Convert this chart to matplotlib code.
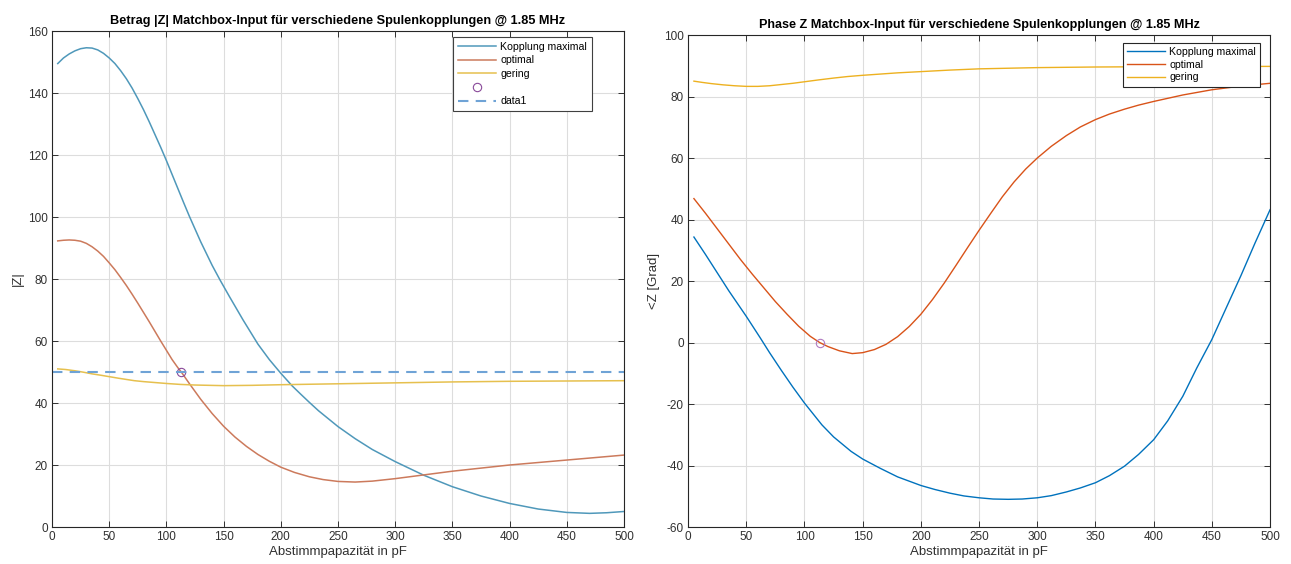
import numpy as np
import matplotlib
matplotlib.use("Agg")
import matplotlib.pyplot as plt

plt.rcParams['font.family'] = ['Liberation Sans', 'DejaVu Sans']
plt.rcParams['axes.unicode_minus'] = False

# |Z| data (left)
x_bmax = [5, 10, 15, 20, 25, 30, 35, 40, 45, 50, 55, 60, 65, 70, 75, 80, 85, 90, 95, 100,
          105, 110, 115, 120, 130, 140, 147, 155, 167, 180, 190, 200, 210, 217, 225, 233,
          250, 265, 280, 300, 325, 350, 375, 400, 425, 450, 470, 485, 500]
z_bmax = [149.5, 151.3, 152.6, 153.6, 154.3, 154.6, 154.5, 153.9, 152.8, 151.3, 149.5,
          147.2, 144.6, 141.6, 138.2, 134.6, 130.7, 126.6, 122.5, 118.2, 113.7, 109.2,
          104.7, 100.3, 92, 84.4, 79.6, 74.4, 66.8, 59, 54, 49.6, 45.5, 43, 40.2, 37.5,
          32.4, 28.5, 25, 21.1, 16.7, 13, 10, 7.6, 5.8, 4.7, 4.4, 4.6, 5.0]
x_bopt = [5, 10, 15, 20, 25, 30, 35, 40, 45, 50, 55, 60, 65, 70, 75, 80, 85, 90, 95, 100,
          105, 110, 113, 120, 130, 140, 150, 160, 170, 180, 190, 200, 212, 225, 237, 250,
          265, 280, 300, 325, 350, 375, 400, 425, 450, 475, 500]
z_bopt = [92.3, 92.5, 92.6, 92.5, 92.2, 91.5, 90.4, 89, 87.3, 85.2, 83, 80.5, 77.9, 75.1,
          72.2, 69.2, 66.2, 63.1, 60, 57, 54, 51.4, 50, 46.3, 41.2, 36.6, 32.5, 29, 26,
          23.4, 21.2, 19.3, 17.6, 16.2, 15.3, 14.7, 14.5, 14.8, 15.6, 16.8, 18, 19, 20,
          20.8, 21.6, 22.4, 23.2]
x_bger = [5, 12, 20, 28, 35, 42, 50, 58, 65, 72, 80, 90, 100, 112, 125, 150, 175, 200,
          250, 300, 350, 400, 450, 500]
z_bger = [51, 50.8, 50.4, 49.9, 49.4, 49, 48.5, 48, 47.6, 47.2, 46.9, 46.6, 46.3, 46,
          45.8, 45.6, 45.7, 45.9, 46.2, 46.5, 46.8, 47, 47.1, 47.2]
ref_x = [0, 500]
ref_z = [50, 50]
mark_x = 113
mark_z = 50

# phase data (right)
x_pmax = [5, 15, 25, 35, 50, 62, 70, 80, 90, 100, 115, 125, 140, 150, 165, 180, 200, 212,
          225, 237, 250, 262, 275, 287, 300, 312, 325, 337, 350, 362, 375, 387, 400, 412,
          425, 437, 450, 462, 475, 487, 500]
p_max = [34.3, 28.6, 22.7, 16.8, 8.5, 1.5, -3.3, -9, -14.5, -19.7, -26.8, -30.7, -35.4,
         -37.9, -40.9, -43.7, -46.5, -47.8, -49, -49.9, -50.5, -50.9, -51, -50.9, -50.5,
         -49.8, -48.6, -47.3, -45.6, -43.3, -40.2, -36.4, -31.6, -25.5, -17.5, -8.3, 1.0,
         11, 21.8, 32.3, 43.2]
x_popt = [5, 15, 25, 35, 45, 55, 65, 75, 85, 95, 105, 113, 120, 130, 141, 150, 160, 170,
          180, 190, 200, 210, 220, 230, 240, 250, 260, 270, 280, 290, 300, 312, 325, 337,
          350, 362, 375, 387, 400, 425, 450, 475, 500]
p_opt = [46.8, 42, 37, 32, 27, 22.3, 17.8, 13.3, 9.2, 5.3, 2, 0, -1.3, -2.7, -3.6, -3.3,
         -2.3, -0.6, 1.9, 5.2, 9.2, 14, 19.3, 25, 30.8, 36.5, 42, 47.4, 52.2, 56.4, 60,
         63.8, 67.3, 70.1, 72.5, 74.3, 75.9, 77.2, 78.4, 80.5, 82.2, 83.4, 84.3]
x_pger = [5, 12, 20, 30, 40, 50, 60, 70, 80, 90, 100, 112, 125, 137, 150, 165, 180, 200,
          225, 250, 275, 300, 350, 400, 500]
p_ger = [85, 84.6, 84.2, 83.8, 83.5, 83.3, 83.3, 83.5, 83.9, 84.3, 84.8, 85.4, 86, 86.5,
         86.9, 87.3, 87.7, 88.1, 88.6, 89, 89.2, 89.4, 89.6, 89.7, 89.8]
pmark_x = 113
pmark_p = 0

fig = plt.figure(figsize=(12.91, 5.64), dpi=100)
ax1 = fig.add_axes([0.0403, 0.0656, 0.443, 0.8794])
ax2 = fig.add_axes([0.533, 0.0656, 0.4508, 0.8723])

def style(ax):
    ax.grid(True, color='#dddddd', linewidth=0.8)
    ax.set_axisbelow(True)
    ax.tick_params(direction='in', top=True, right=True, labelsize=8.5,
                   colors='#303030', length=4, width=0.7, pad=3)
    for s in ax.spines.values():
        s.set_color('#262626')
        s.set_linewidth(0.8)
    ax.set_xlim(0, 500)
    ax.set_xticks(np.arange(0, 501, 50))
    ax.set_xlabel("Abstimmpapazität in pF", fontsize=9.5, color='#303030', labelpad=2)

# left
ax1.plot(x_bmax, z_bmax, color='#4f98ba', lw=1.1, label='Kopplung maximal')
ax1.plot(x_bopt, z_bopt, color='#cc7a5c', lw=1.1, label='optimal')
ax1.plot(x_bger, z_bger, color='#e6c04e', lw=1.1, label='gering')
ax1.plot([mark_x], [mark_z], 'o', mfc='none', mec='#8a4a9a', ms=6, mew=0.8, label=' ')
ax1.plot(ref_x, ref_z, '--', color='#6fa3d6', lw=1.5, dashes=(5, 3.5), label='data1')
style(ax1)
ax1.set_ylim(0, 160)
ax1.set_yticks(np.arange(0, 161, 20))
ax1.set_ylabel("|Z|", fontsize=9.5, color='#303030', labelpad=3)
ax1.set_title("Betrag |Z| Matchbox-Input für verschiedene Spulenkopplungen @ 1.85 MHz",
              fontsize=9.2, fontweight='bold', pad=5)
leg1 = ax1.legend(loc='upper right', bbox_to_anchor=(0.944, 0.988), fontsize=7.6,
                  handlelength=3.6, fancybox=False, framealpha=1, borderpad=0.45,
                  labelspacing=0.35, handletextpad=0.4, borderaxespad=0)
leg1.get_frame().set_edgecolor('#404040')
leg1.get_frame().set_linewidth(0.8)

# right
ax2.plot(x_pmax, p_max, color='#0072BD', lw=1.0, label='Kopplung maximal')
ax2.plot(x_popt, p_opt, color='#D95319', lw=1.0, label='optimal')
ax2.plot(x_pger, p_ger, color='#EDB120', lw=1.0, label='gering')
ax2.plot([pmark_x], [pmark_p], 'o', mfc='none', mec='#b07ac0', ms=6, mew=0.8)
style(ax2)
ax2.set_ylim(-60, 100)
ax2.set_yticks(np.arange(-60, 101, 20))
ax2.set_ylabel("<Z [Grad]", fontsize=9.5, color='#303030', labelpad=3)
ax2.set_title("Phase Z Matchbox-Input für verschiedene Spulenkopplungen @ 1.85 MHz",
              fontsize=9.1, fontweight='bold', pad=5)
leg2 = ax2.legend(loc='upper right', bbox_to_anchor=(0.983, 0.984), fontsize=7.6,
                  handlelength=3.6, fancybox=False, framealpha=1, borderpad=0.4,
                  labelspacing=0.25, handletextpad=0.4, borderaxespad=0)
leg2.get_frame().set_edgecolor('#262626')
leg2.get_frame().set_linewidth(0.8)

fig.savefig("out.png", dpi=100)
